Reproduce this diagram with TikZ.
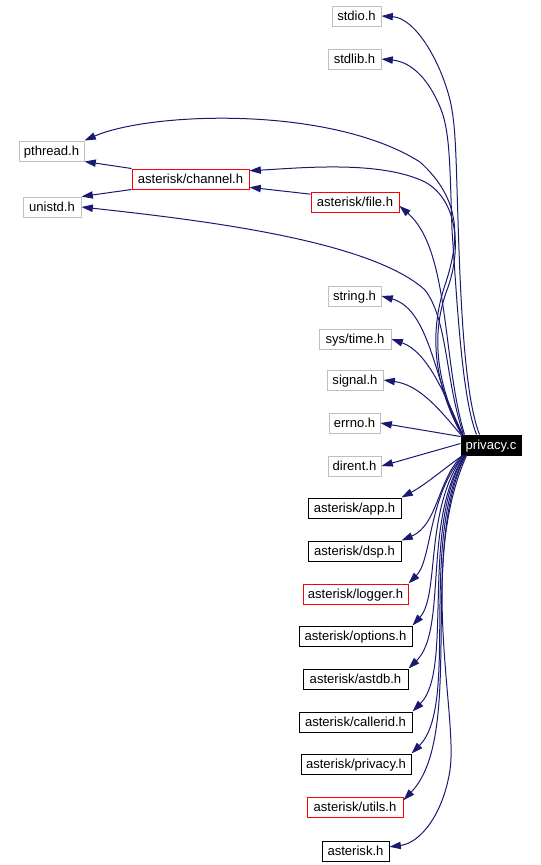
\documentclass[tikz,border=0pt]{standalone}
\usepackage{fontspec}
\setmainfont{Liberation Sans}
\usetikzlibrary{arrows.meta,calc}
\definecolor{edgeblue}{RGB}{25,25,112}
\definecolor{graybox}{RGB}{191,191,191}
\begin{document}
\begin{tikzpicture}[x=0.75pt,y=-0.75pt,
  box/.style={draw=black,line width=0.75pt,minimum height=15pt,inner sep=0pt,
    text height=8.4pt,text depth=1pt,
    font=\fontsize{9.8}{11}\selectfont,anchor=center},
  sysbox/.style={box,draw=graybox},
  redbox/.style={box,draw=red},
  rootbox/.style={box,draw=black,fill=black,text=white},
  w/.style={minimum width=#1*0.75pt},
  dep/.style={draw=edgeblue,line width=0.75pt,-{Triangle[length=8.5pt,width=5.5pt]}}
]
\useasboundingbox (0,0) rectangle (540,865);

% nodes
\node[sysbox,w=49]  (stdio)    at (356.5,16)  {stdio.h};
\node[sysbox,w=53]  (stdlib)   at (354.5,59)  {stdlib.h};
\node[sysbox,w=65]  (pthread)  at (51.5,151)  {pthread.h};
\node[redbox,w=117] (channel)  at (190.5,179) {asterisk/channel.h};
\node[sysbox,w=58]  (unistd)   at (52,207)    {unistd.h};
\node[redbox,w=88]  (file)     at (355,202)   {asterisk/file.h};
\node[sysbox,w=53]  (string)   at (354.5,296) {string.h};
\node[sysbox,w=72]  (systime)  at (355,339)   {sys/time.h};
\node[sysbox,w=56]  (signal)   at (355,380)   {signal.h};
\node[sysbox,w=51]  (errno)    at (354.5,423) {errno.h};
\node[sysbox,w=53]  (dirent)   at (354.5,466) {dirent.h};
\node[rootbox,w=60] (privacy)  at (491,445)   {privacy.c};
\node[box,w=93]     (app)      at (354.5,508) {asterisk/app.h};
\node[box,w=93]     (dsp)      at (354.5,551) {asterisk/dsp.h};
\node[redbox,w=105] (logger)   at (355.5,594) {asterisk/logger.h};
\node[box,w=113]    (options)  at (355.5,636) {asterisk/options.h};
\node[box,w=105]    (astdb)    at (355.5,679) {asterisk/astdb.h};
\node[box,w=113]    (callerid) at (355.5,722) {asterisk/callerid.h};
\node[box,w=110]    (privacyh) at (356,764)   {asterisk/privacy.h};
\node[redbox,w=96]  (utils)    at (355,807)   {asterisk/utils.h};
\node[box,w=67]     (asteriskh) at (355.5,851) {asterisk.h};

% edges from privacy.c upward
\draw[dep] ($(privacy.north west)+(19,0)$)
  .. controls (466,400) and (461,320) .. (458,220)
  .. controls (456,160) and (456,125) .. (450,100)
  .. controls (440,60) and (415,18) .. (stdio.east);
\draw[dep] ($(privacy.north west)+(16,0)$)
  .. controls (463,400) and (458,320) .. (452,230)
  .. controls (450,170) and (450,135) .. (442,112)
  .. controls (430,80) and (412,62) .. (stdlib.east);
\draw[dep] ($(privacy.north west)+(1,0)$)
  .. controls (432,380) and (430,330) .. (445,285)
  .. controls (460,240) and (462,200) .. (420,162)
  .. controls (330,105) and (150,112) .. (pthread.north east);
\draw[dep] ($(privacy.north west)+(2,0)$)
  .. controls (434,380) and (432,330) .. (447,290)
  .. controls (462,250) and (458,200) .. (425,182)
  .. controls (380,160) and (300,168) .. (channel.8);
\draw[dep] ($(privacy.north west)+(3,0)$)
  .. controls (445,380) and (448,320) .. (425,290)
  .. controls (370,240) and (200,220) .. (unistd.east);
\draw[dep] ($(privacy.north west)+(4,0)$)
  .. controls (442,360) and (450,250) .. (file.-5);
\draw[dep] ($(privacy.north west)+(2,0)$)
  .. controls (435,390) and (432,310) .. (string.east);
\draw[dep] ($(privacy.north west)+(2,0)$)
  .. controls (445,395) and (428,352) .. (systime.east);
\draw[dep] ($(privacy.north west)+(1,1)$)
  .. controls (440,410) and (420,385) .. (signal.east);
\draw[dep] ($(privacy.north west)+(0,2)$) -- (errno.east);
\draw[dep] ($(privacy.north west)+(0,9)$) -- (dirent.east);

% edges between headers
\draw[dep] (channel.north west) -- (pthread.south east);
\draw[dep] (channel.south west) -- (unistd.north east);
\draw[dep] (file.170) -- (channel.-8);

% edges from privacy.c downward
\draw[dep] ($(privacy.south west)+(2,0)$)
  .. controls (445,468) and (425,485) .. (app.north east);
\draw[dep] ($(privacy.south west)+(2,0)$)
  .. controls (438,478) and (438,525) .. (dsp.north east);
\draw[dep] ($(privacy.south west)+(3,0)$)
  .. controls (428,495) and (432,560) .. (logger.north east);
\draw[dep] ($(privacy.south west)+(3,0)$)
  .. controls (424,510) and (440,595) .. (options.north east);
\draw[dep] ($(privacy.south west)+(4,0)$)
  .. controls (422,520) and (448,630) .. (astdb.north east);
\draw[dep] ($(privacy.south west)+(4,0)$)
  .. controls (420,530) and (454,670) .. (callerid.north east);
\draw[dep] ($(privacy.south west)+(5,0)$)
  .. controls (418,540) and (460,705) .. (privacyh.north east);
\draw[dep] ($(privacy.south west)+(5,0)$)
  .. controls (418,550) and (466,735) .. (utils.8);
\draw[dep] ($(privacy.south west)+(6,0)$)
  .. controls (418,565) and (458,715) .. (450,770)
  .. controls (443,815) and (420,843) .. (asteriskh.7);
\end{tikzpicture}
\end{document}
